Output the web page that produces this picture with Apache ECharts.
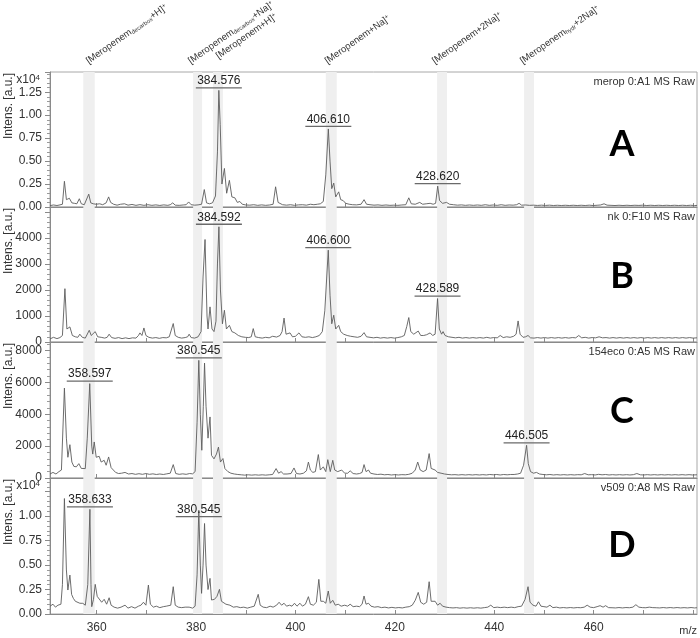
<!DOCTYPE html>
<html><head><meta charset="utf-8">
<script src="https://cdn.jsdelivr.net/npm/echarts@6/dist/echarts.min.js"></script>
<style>html,body{margin:0;padding:0;background:#fff}#c{width:700px;height:638px}</style>
</head><body><div id="c"></div>
<script>
// ---------------- DATA ----------------
const specA = [[350.6,150],[351.3,220],[352.0,160],[352.6,230],[353.1,300],[353.5,2800],[353.9,800],[354.5,950],[355.0,450],[355.5,400],[356.0,350],[356.5,900],[356.9,350],[357.5,250],[357.9,300],[358.4,1400],[358.8,450],[359.3,350],[359.9,300],[360.6,350],[361.2,250],[361.9,450],[362.4,1100],[362.8,500],[363.4,300],[364.1,200],[364.8,300],[365.6,350],[366.3,200],[367.1,280],[367.9,180],[368.7,260],[369.5,180],[370.3,250],[371.1,180],[371.9,230],[372.7,170],[373.5,230],[374.3,180],[374.8,250],[375.3,450],[375.8,200],[376.6,180],[377.4,220],[378.0,250],[378.5,550],[379.0,250],[379.7,200],[380.4,230],[381.1,300],[381.65,1900],[382.1,450],[382.7,350],[383.3,450],[383.9,1200],[384.3,6000],[384.576,12700],[384.85,9000],[385.2,2500],[385.7,4200],[386.15,1500],[386.7,2900],[387.2,1100],[387.8,1000],[388.3,500],[388.8,600],[389.3,300],[390.0,220],[390.8,200],[391.6,250],[392.4,180],[393.2,230],[394.0,180],[394.8,220],[395.5,300],[396.0,2200],[396.5,500],[396.9,600],[397.4,250],[398.2,200],[399.0,250],[399.8,180],[400.6,230],[401.4,250],[402.2,200],[403.0,300],[403.7,250],[404.4,300],[405.0,350],[405.6,600],[406.1,3500],[406.61,8500],[406.95,5000],[407.3,2000],[407.7,2600],[408.1,1100],[408.7,1650],[409.1,800],[409.6,700],[410.1,400],[410.8,300],[411.5,250],[412.3,230],[413.2,300],[413.8,800],[414.3,300],[415.0,250],[415.8,200],[416.6,230],[417.4,180],[418.2,220],[419.0,180],[419.8,200],[420.6,180],[421.4,220],[422.2,250],[422.8,1000],[423.3,350],[424.1,300],[425.0,500],[425.6,300],[426.3,350],[427.1,400],[427.7,300],[428.2,400],[428.62,2270],[429.0,700],[429.6,400],[430.4,500],[431.0,300],[431.8,250],[432.6,200],[433.4,230],[434.2,180],[435.0,220],[435.8,180],[436.6,220],[437.4,180],[438.2,250],[439.0,180],[439.8,220],[440.6,180],[441.4,250],[442.2,180],[443.0,220],[443.8,200],[444.5,250],[445.0,400],[445.5,200],[446.3,220],[447.1,180],[447.9,200],[448.7,170],[449.5,200],[450.3,170],[451.1,200],[451.9,160],[452.7,190],[453.5,160],[454.3,190],[455.1,160],[455.9,190],[456.7,160],[457.5,190],[458.3,160],[459.1,200],[459.9,160],[460.7,190],[461.4,220],[462.1,350],[462.7,200],[463.5,180],[464.3,160],[465.1,190],[465.9,160],[466.7,190],[467.5,160],[468.3,190],[469.1,170],[469.9,200],[470.7,160],[471.5,190],[472.3,160],[473.1,190],[473.9,160],[474.7,190],[475.5,160],[476.3,190],[477.1,160],[477.9,190],[478.7,160],[479.5,190],[480.3,160],[480.8,170]];

const specB = [[350.6,120],[351.3,180],[352.0,130],[352.6,170],[353.1,250],[353.6,2050],[354.0,500],[354.6,580],[355.1,250],[355.7,200],[356.2,180],[356.6,300],[357.1,180],[357.7,150],[358.1,200],[358.5,450],[358.9,250],[359.3,200],[359.7,400],[360.2,200],[360.9,180],[361.6,150],[362.1,180],[362.5,300],[363.0,170],[363.7,140],[364.4,170],[365.1,130],[365.8,160],[366.5,130],[367.2,160],[367.9,150],[368.4,250],[368.7,350],[369.1,250],[369.5,540],[369.9,250],[370.5,180],[371.2,150],[371.9,170],[372.6,140],[373.3,170],[374.0,160],[374.6,200],[375.0,250],[375.4,710],[375.8,250],[376.4,180],[377.1,150],[377.8,170],[378.3,200],[378.6,300],[379.0,170],[379.7,150],[380.4,200],[381.0,400],[381.4,2500],[381.8,3940],[382.2,1000],[382.4,500],[382.8,1350],[383.2,500],[383.6,400],[384.0,800],[384.3,3000],[384.592,4430],[384.9,2000],[385.3,700],[385.7,1220],[386.1,500],[386.7,640],[387.2,400],[387.8,350],[388.5,250],[389.2,200],[389.9,180],[390.6,170],[391.1,200],[391.5,515],[391.9,200],[392.6,170],[393.3,150],[394.0,180],[394.7,160],[395.4,220],[396.2,190],[396.9,250],[397.3,400],[397.7,920],[398.1,300],[398.5,250],[398.9,350],[399.4,200],[400.0,220],[400.7,350],[401.3,200],[402.0,180],[402.7,200],[403.4,170],[404.1,200],[404.8,250],[405.4,400],[405.9,1200],[406.6,3530],[406.95,1800],[407.3,700],[407.7,1030],[408.1,500],[408.7,640],[409.1,400],[409.7,300],[410.4,250],[411.1,220],[411.8,200],[412.5,180],[413.2,220],[413.8,360],[414.3,200],[415.0,180],[415.7,160],[416.4,180],[417.1,150],[417.8,170],[418.5,150],[419.2,170],[419.9,150],[420.6,170],[421.3,200],[421.9,250],[422.4,600],[422.8,940],[423.2,400],[423.8,300],[424.2,350],[424.7,420],[425.2,250],[425.8,250],[426.4,280],[427.1,350],[427.6,250],[428.1,300],[428.589,1670],[428.95,500],[429.4,300],[429.7,400],[430.1,250],[430.8,200],[431.5,180],[432.2,160],[432.9,180],[433.6,150],[434.3,170],[435.0,150],[435.7,170],[436.4,150],[437.1,170],[437.8,150],[438.5,180],[439.2,150],[439.9,170],[440.6,160],[441.2,250],[441.8,170],[442.5,200],[443.2,180],[443.9,220],[444.4,300],[444.8,810],[445.2,300],[445.8,180],[446.3,200],[446.8,250],[447.3,160],[448.0,150],[448.7,170],[449.4,150],[450.1,170],[450.8,150],[451.5,170],[452.2,150],[452.9,170],[453.6,150],[454.3,170],[455.0,150],[455.7,170],[456.4,160],[457.0,250],[457.6,160],[458.3,180],[459.0,150],[459.7,170],[460.4,160],[461.1,200],[461.8,160],[462.5,170],[463.2,150],[463.9,170],[464.6,150],[465.3,170],[466.0,150],[466.7,170],[467.4,150],[468.1,170],[468.8,150],[469.5,170],[470.2,150],[470.9,170],[471.6,150],[472.3,170],[473.0,150],[473.7,170],[474.4,150],[475.1,170],[475.8,150],[476.5,170],[477.2,150],[477.9,170],[478.6,150],[479.3,170],[480.0,150],[480.8,160]];

const specC = [[350.6,250],[351.2,350],[351.8,250],[352.4,400],[352.9,500],[353.5,5640],[353.9,2500],[354.2,1300],[354.6,2090],[355.0,1000],[355.4,730],[355.9,700],[356.4,900],[356.9,600],[357.3,650],[357.7,590],[358.1,2500],[358.597,5920],[359.0,2000],[359.2,1500],[359.5,2260],[359.9,1300],[360.2,1200],[360.5,1360],[360.9,1000],[361.5,1110],[361.9,800],[362.4,1320],[362.9,650],[363.3,630],[363.8,350],[364.4,280],[365.0,300],[365.7,350],[366.4,250],[367.1,280],[367.8,230],[368.5,270],[369.2,230],[369.9,280],[370.6,230],[371.3,260],[372.0,220],[372.7,250],[373.4,220],[374.1,260],[374.8,300],[375.4,840],[375.9,280],[376.6,230],[377.3,260],[378.0,230],[378.7,280],[379.3,260],[379.8,400],[380.2,3500],[380.545,7380],[380.85,4000],[381.15,1740],[381.45,4500],[381.7,7210],[382.0,4500],[382.4,2500],[382.8,3830],[383.1,1420],[383.6,1200],[384.1,1500],[384.5,1940],[384.9,1000],[385.4,1220],[385.8,590],[386.4,400],[387.0,300],[387.7,250],[388.4,220],[389.1,200],[389.8,180],[390.5,200],[391.2,180],[391.9,200],[392.6,180],[393.3,200],[394.0,180],[394.7,200],[395.4,220],[396.1,590],[396.6,300],[397.1,400],[397.6,250],[398.3,250],[399.1,280],[399.7,630],[400.2,280],[400.9,250],[401.6,300],[402.2,450],[402.6,1000],[403.0,500],[403.5,350],[404.0,400],[404.6,1470],[405.0,500],[405.6,700],[406.1,400],[406.5,1150],[407.0,400],[407.5,1110],[407.9,500],[408.5,400],[409.3,500],[409.9,300],[410.5,300],[411.0,450],[411.6,280],[412.3,250],[412.9,280],[413.4,350],[413.8,840],[414.2,400],[414.7,500],[415.1,300],[415.8,250],[416.5,220],[417.2,240],[417.9,200],[418.6,220],[419.3,190],[420.0,210],[420.7,190],[421.4,210],[422.1,200],[422.8,230],[423.5,300],[424.1,500],[424.6,1000],[425.1,500],[425.7,400],[426.3,500],[426.9,1530],[427.3,600],[428.1,500],[428.6,350],[429.3,300],[430.0,250],[430.7,220],[431.4,200],[432.1,210],[432.8,190],[433.5,210],[434.2,190],[434.9,210],[435.6,190],[436.3,210],[437.0,190],[437.7,210],[438.4,190],[439.1,220],[439.8,200],[440.5,220],[441.2,190],[441.9,220],[442.6,200],[443.3,220],[444.0,220],[444.7,250],[445.3,300],[445.9,800],[446.505,2050],[446.85,900],[447.3,400],[447.9,300],[448.5,350],[449.1,250],[449.8,220],[450.5,200],[451.2,220],[451.9,190],[452.6,210],[453.3,190],[454.0,210],[454.7,190],[455.4,210],[456.1,190],[456.8,210],[457.5,200],[458.2,280],[458.9,200],[459.6,210],[460.3,190],[461.0,230],[461.7,200],[462.4,220],[463.1,190],[463.8,210],[464.5,190],[465.2,210],[465.9,190],[466.6,210],[467.3,190],[468.0,210],[468.7,280],[469.4,200],[470.1,190],[470.8,210],[471.5,190],[472.2,210],[472.9,190],[473.6,210],[474.3,190],[475.0,210],[475.7,190],[476.4,210],[477.1,190],[477.8,210],[478.5,190],[479.2,210],[479.9,190],[480.8,200]];

const specD = [[350.6,800],[351.2,1000],[351.7,700],[352.2,900],[352.8,1000],[353.1,3000],[353.5,11800],[353.9,4500],[354.2,2450],[354.6,3980],[354.95,2000],[355.3,1600],[355.7,1300],[356.1,1400],[356.6,1100],[357.2,1090],[357.7,900],[358.2,3000],[358.633,10700],[358.85,3000],[359.0,750],[359.35,1500],[359.7,3030],[360.1,1800],[360.5,1840],[361.0,1200],[361.5,1500],[362.0,1000],[362.5,1660],[362.9,900],[363.5,700],[364.2,600],[364.9,700],[365.7,900],[366.3,600],[367.0,750],[367.7,600],[368.4,800],[368.9,900],[369.4,1200],[369.9,900],[370.4,2960],[370.8,1000],[371.4,700],[372.0,800],[372.7,650],[373.4,750],[374.0,800],[374.4,1000],[374.9,900],[375.4,2790],[375.8,900],[376.4,700],[377.1,650],[377.8,700],[378.6,700],[379.3,600],[379.8,800],[380.2,4000],[380.545,10600],[380.85,5000],[381.1,2110],[381.4,5000],[381.7,9250],[382.0,5000],[382.4,2500],[382.8,3640],[383.1,1430],[383.7,1500],[384.2,1800],[384.7,2520],[385.1,1300],[385.5,1300],[386.0,1000],[386.8,900],[387.5,700],[388.2,750],[388.9,650],[389.6,700],[390.3,600],[391.0,700],[391.7,800],[392.1,900],[392.5,2010],[392.9,900],[393.5,700],[394.2,650],[394.9,800],[395.5,700],[396.2,900],[396.7,1200],[397.2,900],[397.7,1100],[398.2,800],[398.8,900],[399.3,800],[399.8,1100],[400.3,800],[400.9,1100],[401.4,800],[402.0,1000],[402.6,1770],[403.0,1000],[403.6,900],[404.2,1200],[404.7,3540],[405.1,1300],[405.6,1300],[406.1,1100],[406.6,2350],[407.0,1100],[407.5,1400],[408.0,900],[408.6,1000],[409.2,800],[409.9,900],[410.5,800],[411.0,1000],[411.6,750],[412.3,800],[412.9,750],[413.4,1000],[413.8,1840],[414.2,1000],[414.7,1100],[415.2,800],[415.9,700],[416.6,750],[417.3,650],[418.0,700],[418.7,620],[419.4,680],[420.1,620],[420.8,660],[421.5,620],[422.2,700],[422.9,750],[423.5,900],[424.1,1400],[424.7,2210],[425.2,1200],[425.8,1000],[426.4,1200],[426.9,3300],[427.3,1300],[427.7,1100],[428.1,1300],[428.6,900],[429.1,1100],[429.6,800],[430.3,700],[431.0,650],[431.7,620],[432.4,650],[433.1,600],[433.8,640],[434.5,600],[435.2,640],[435.9,600],[436.6,640],[437.3,600],[438.0,650],[438.7,700],[439.3,900],[439.9,650],[440.6,700],[441.3,650],[442.0,700],[442.7,650],[443.4,700],[444.1,650],[444.8,750],[445.5,800],[446.2,1500],[446.8,2790],[447.2,1200],[447.8,900],[448.4,800],[448.9,1250],[449.4,800],[450.0,750],[450.6,700],[451.2,900],[451.8,650],[452.5,700],[453.2,620],[453.9,660],[454.6,620],[455.3,660],[456.0,620],[456.7,660],[457.4,640],[458.1,700],[458.7,900],[459.3,700],[460.0,650],[460.7,750],[461.3,850],[461.9,700],[462.4,850],[463.0,650],[463.7,640],[464.4,620],[465.1,660],[465.8,620],[466.5,660],[467.2,640],[467.9,700],[468.5,950],[469.1,700],[469.8,650],[470.5,640],[471.2,700],[471.9,650],[472.6,640],[473.3,620],[474.0,660],[474.7,620],[475.4,660],[476.1,620],[476.8,660],[477.5,620],[478.2,650],[478.9,620],[479.6,660],[480.3,620],[480.8,640]];

// labelled peaks: m/z, intensity at which label sits, text
const peaksA = [[384.576,12700],[406.610,8500],[428.620,2270]];
const peaksB = [[384.592,4430],[406.600,3530],[428.589,1670]];
const peaksC = [[358.597,5920],[380.545,7380],[446.505,2050]];
const peaksD = [[358.633,10700],[380.545,9700]];
const peakTextA = ['384.576','406.610','428.620'];
const peakTextB = ['384.592','406.600','428.589'];
const peakTextC = ['358.597','380.545','446.505'];
const peakTextD = ['358.633','380.545'];

// highlighted m/z windows
const bandStart = [357.3, 379.4, 383.4, 406.1, 428.5, 446.0];
const bandEnd   = [359.6, 381.2, 385.4, 408.3, 430.5, 448.0];

// top annotations
const annotMz = [358.65, 379.2, 384.8, 406.7, 428.3, 446.0];
const annotText = [
  '[Meropenem{sub|decarbox}+H]{sup|+}',
  '[Meropenem{sub|decarbox}+Na]{sup|+}',
  '[Meropenem+H]{sup|+}',
  '[Meropenem+Na]{sup|+}',
  '[Meropenem+2Na]{sup|+}',
  '[Meropenem{sub|hydr}+2Na]{sup|+}'
];

const panelNames = ['merop 0:A1 MS Raw','nk 0:F10 MS Raw','154eco 0:A5 MS Raw','v509 0:A8 MS Raw'];
const panelLetters = ['A','B','C','D'];
const yMax = [14700, 5190, 8530, 13900];
const yInterval = [2500, 1000, 2000, 2500];
const xTickLabels = [360, 380, 400, 420, 440, 460];
const xTickMarks = [360, 370, 380, 390, 400, 410, 420, 430, 440, 450, 460, 470, 480];
const xMin = 350.6, xMax = 480.8;

// ---------------- LAYOUT / STYLE ----------------
const gridTops = [72, 207, 342, 478];
const gridHeights = [135, 135, 136, 136];
const GL = 50, GR = 3;
const FONT = 'Liberation Sans, Arial, sans-serif';
const specs = [specA, specB, specC, specD];
const peaks = [peaksA, peaksB, peaksC, peaksD];
const peakTexts = [peakTextA, peakTextB, peakTextC, peakTextD];

const chart = echarts.init(document.getElementById('c'), null, {renderer: 'canvas'});

const grids = [], xAxes = [], yAxes = [], series = [];
for (let i = 0; i < 4; i++) {
  grids.push({left: GL, right: GR, top: gridTops[i], height: gridHeights[i], show: true,
    borderColor: '#a8a8a8', borderWidth: 1, backgroundColor: 'transparent'});
  xAxes.push({type: 'value', gridIndex: i, min: xMin, max: xMax,
    axisLine: {show: true, lineStyle: {color: '#8a8a8a', width: 1}},
    axisTick: {show: true, inside: true, length: 4, customValues: xTickMarks, lineStyle: {color: '#8a8a8a'}},
    axisLabel: {show: i === 3, customValues: xTickLabels, color: '#333', fontSize: 12, fontFamily: FONT, margin: 8},
    splitLine: {show: false}});
  const mx = yMax[i], iv = yInterval[i];
  yAxes.push({type: 'value', gridIndex: i, min: 0, max: mx, interval: iv,
    axisLine: {show: true, lineStyle: {color: '#8a8a8a', width: 1}},
    axisTick: {show: true, inside: false, length: 5, lineStyle: {color: '#8a8a8a'}},
    minorTick: {show: true, splitNumber: 5, length: 3, lineStyle: {color: '#9a9a9a'}},
    splitLine: {show: false},
    axisLabel: {color: '#333', fontSize: 12, fontFamily: FONT, margin: 8, showMaxLabel: false,
      formatter: function (v) {
        if (Math.abs(v % iv) > 1e-6) return '';
        if (i === 0) return (v / 10000).toFixed(2);
        if (i === 3) return v >= 12500 ? '' : (v / 10000).toFixed(2);
        if (i === 1) return v >= 5000 ? '' : String(v);
        return String(v);
      }}});
  series.push({type: 'line', xAxisIndex: i, yAxisIndex: i, data: specs[i], showSymbol: false,
    symbol: 'none', lineStyle: {color: '#5c5c5c', width: 0.9}, z: 3, silent: true,
    markArea: {silent: true, itemStyle: {color: '#efefef'},
      data: bandStart.map((s, k) => [{xAxis: s}, {xAxis: bandEnd[k]}])}});
  const texts = peakTexts[i];
  series.push({type: 'custom', xAxisIndex: i, yAxisIndex: i, data: peaks[i], z: 5, clip: false, silent: true,
    renderItem: function (params, api) {
      const p = api.coord([api.value(0), api.value(1)]);
      const uy = p[1] - 2.5;
      return {type: 'group', children: [
        {type: 'line', shape: {x1: p[0] - 23, y1: uy, x2: p[0] + 23, y2: uy}, style: {stroke: '#6a6a6a', lineWidth: 1.3}},
        {type: 'text', x: p[0], y: uy - 1, style: {text: texts[params.dataIndex], align: 'center', verticalAlign: 'bottom',
          fontSize: 12, fontFamily: FONT, fill: '#222'}}
      ]};
    }});
}
// top annotations on grid A
const annotLift = [6, 6, 11, 6, 6, 6];
series.push({type: 'custom', xAxisIndex: 0, yAxisIndex: 0, data: annotMz.map(m => [m, yMax[0]]), clip: false, silent: true, z: 6,
  renderItem: function (params, api) {
    const p = api.coord([api.value(0), api.value(1)]);
    return {type: 'text', x: p[0], y: p[1] - annotLift[params.dataIndex], rotation: 35 * Math.PI / 180,
      style: {text: annotText[params.dataIndex], align: 'left', verticalAlign: 'bottom', fontSize: 9.5, fontFamily: FONT, fill: '#333',
        rich: {sub: {fontSize: 6, fontFamily: FONT, fill: '#333', verticalAlign: 'bottom', lineHeight: 7},
               sup: {fontSize: 6, fontFamily: FONT, fill: '#333', verticalAlign: 'top', lineHeight: 7}}}};
  }});

const graphics = [];
const letterY = [144, 276, 411, 545];
for (let i = 0; i < 4; i++) {
  graphics.push({type: 'text', x: 9, y: gridTops[i] + 1, rotation: Math.PI / 2,
    style: {text: 'Intens. [a.u.]', align: 'right', verticalAlign: 'middle', fontSize: 12, fontFamily: FONT, fill: '#333'}});
  graphics.push({type: 'text', x: 695, y: gridTops[i] + 10,
    style: {text: panelNames[i], align: 'right', verticalAlign: 'middle', fontSize: 11, fontFamily: FONT, fill: '#333'}});
  graphics.push({type: 'text', x: 622, y: letterY[i],
    style: {text: panelLetters[i], align: 'center', verticalAlign: 'middle', fontSize: 36, fontWeight: 'bold', fontFamily: 'Lato, Open Sans, sans-serif', fill: '#000'}});
}
[0, 3].forEach(i => graphics.push({type: 'text', x: 40, y: gridTops[i] + 8,
  style: {text: 'x10{s|4}', align: 'right', verticalAlign: 'middle', fontSize: 12, fontFamily: FONT, fill: '#333',
    rich: {s: {fontSize: 8, fontFamily: FONT, fill: '#333', verticalAlign: 'top', lineHeight: 8}}}}));
graphics.push({type: 'text', x: 697, y: 631, style: {text: 'm/z', align: 'right', verticalAlign: 'middle', fontSize: 11, fontFamily: FONT, fill: '#333'}});

chart.setOption({animation: false, backgroundColor: '#fff', grid: grids, xAxis: xAxes, yAxis: yAxes, series: series, graphic: graphics});
</script>
</body></html>
